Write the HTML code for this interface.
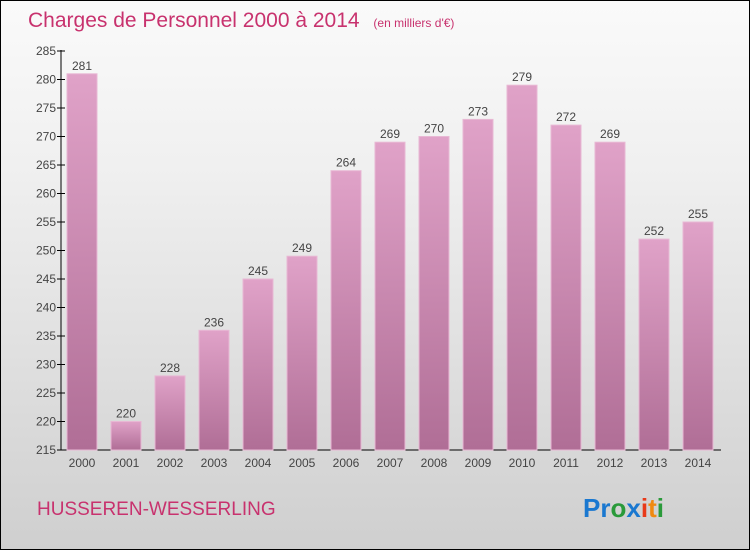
<!DOCTYPE html>
<html><head><meta charset="utf-8"><style>
body{margin:0}
#c{width:748px;height:548px;border:1px solid #000;background:linear-gradient(#fafafa,#f0f0f0 30%,#cfcfcf);position:relative;overflow:hidden;font-family:"Liberation Sans",sans-serif}
</style></head><body>
<div id="c">
<svg width="748" height="548" font-family="Liberation Sans, sans-serif">
<defs><linearGradient id="bg" x1="0" y1="0" x2="0" y2="1"><stop offset="0" stop-color="#e0a2c8"/><stop offset="1" stop-color="#b06e96"/></linearGradient></defs>
<text x="27" y="26" font-size="21" fill="#c8326e">Charges de Personnel 2000 à 2014 <tspan font-size="12" dx="8">(en milliers d'€)</tspan></text>
<g id="g"></g>
<text x="36" y="514" font-size="19" fill="#c8326e">HUSSEREN-WESSERLING</text>
<text x="582" y="516" font-size="26" font-weight="bold"><tspan fill="#1a78d0">Pr</tspan><tspan fill="#2a9a3a">o</tspan><tspan fill="#1a78d0">x</tspan><tspan fill="#e83a1a">i</tspan><tspan fill="#f08a10">t</tspan><tspan fill="#2a9a3a">i</tspan></text>
</svg></div>
<script>
const years=["2000","2001","2002","2003","2004","2005","2006","2007","2008","2009","2010","2011","2012","2013","2014"];
const values=[281,220,228,236,245,249,264,269,270,273,279,272,269,252,255];
const ticks=[215,220,225,230,235,240,245,250,255,260,265,270,275,280,285];
const NS="http://www.w3.org/2000/svg",g=document.getElementById('g');
const y=v=>449-(v-215)*(399/70), x=i=>81+i*44;
function el(t,a,p){const e=document.createElementNS(NS,t);for(const k in a)e.setAttribute(k,a[k]);(p||g).appendChild(e);return e;}
const ya=el('line',{x1:60,y1:49,x2:60,y2:449,stroke:'#000'});


const xa=el('line',{x1:60,y1:449,x2:720,y2:449,stroke:'#000'});


ticks.forEach(t=>{
 const l=el('line',{x1:56,x2:64,y1:y(t),y2:y(t),stroke:'#000'});
 
 
 const tx=el('text',{x:55,y:y(t)+4,'font-size':12,'text-anchor':'end',fill:'#444'});tx.textContent=t;
 
 
});
values.forEach((v,i)=>{
 const r=el('rect',{x:x(i)-15,y:y(v),width:30,height:449-y(v),fill:'url(#bg)',stroke:'#e8b8d4','stroke-width':1});
 
 
 const vl=el('text',{x:x(i),y:y(v)-4,'font-size':12,'text-anchor':'middle',fill:'#444'});vl.textContent=v;
 
 
 const xl=el('text',{x:x(i),y:466,'font-size':12,'text-anchor':'middle',fill:'#444'});xl.textContent=years[i];
 
 
});
</script></body></html>
